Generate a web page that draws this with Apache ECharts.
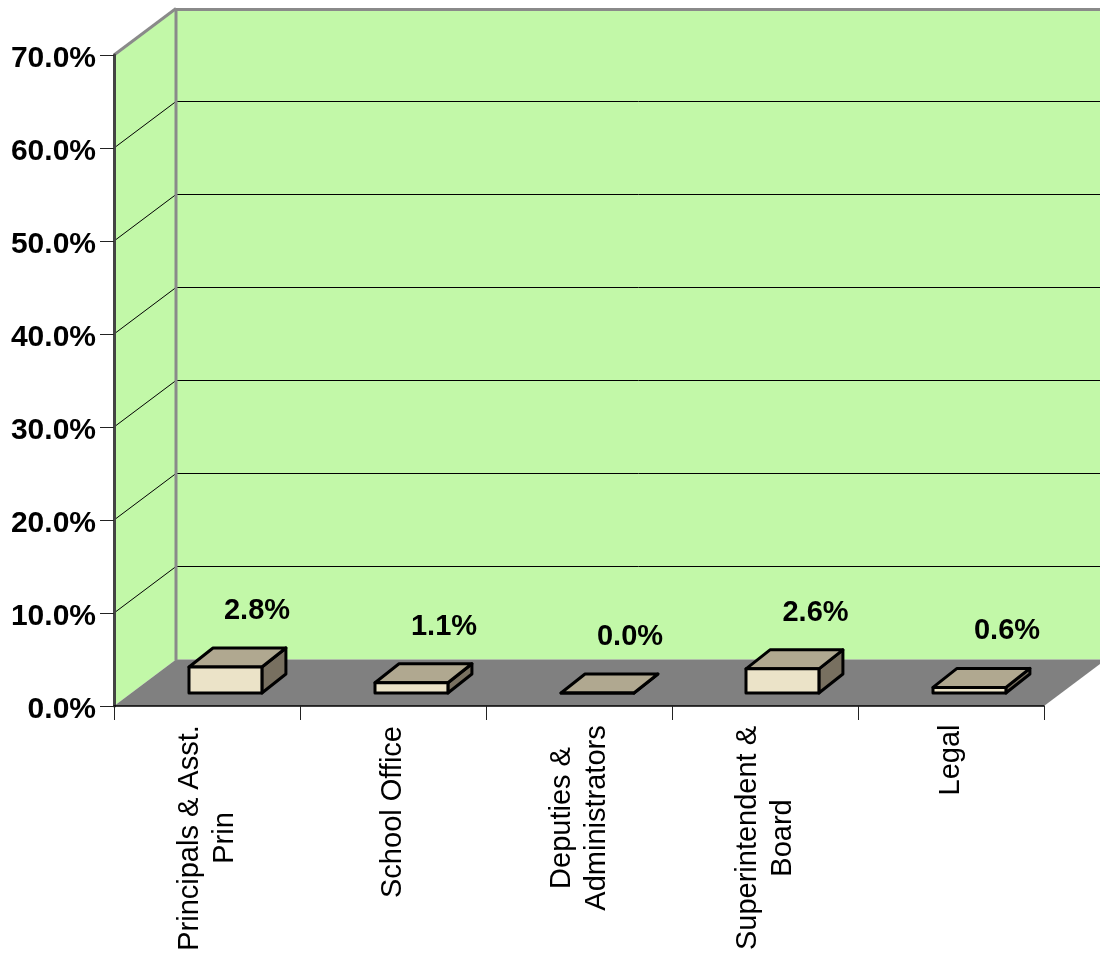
<!DOCTYPE html>
<html><head><meta charset="utf-8">
<style>html,body{margin:0;padding:0;background:#fff;overflow:hidden}#c{width:1100px;height:953px}</style>
<script src="https://cdn.jsdelivr.net/npm/echarts@6/dist/echarts.min.js"></script>
</head><body><div id="c"></div>
<script>
const categories = ['Principals & Asst.\nPrin', 'School Office', 'Deputies &\nAdministrators', 'Superintendent &\nBoard', 'Legal'];
const values = [2.8, 1.1, 0.0, 2.6, 0.6];
const yTicks = [0, 10, 20, 30, 40, 50, 60, 70];

const FONT = '"Liberation Sans", Arial, sans-serif';
const DX = 62, DY = -46.5;           // depth of the room
const labelCentres = [838, 812, 818, 838, 760];

const chart = echarts.init(document.getElementById('c'), null, {renderer: 'canvas'});

function poly(pts, fill, stroke, lw) {
  return {type: 'polygon', shape: {points: pts},
    style: {fill: fill, stroke: stroke || 'none', lineWidth: lw || 0, lineJoin: 'round'}};
}
function line(a, b, stroke, lw) {
  return {type: 'line', shape: {x1: a[0], y1: a[1], x2: b[0], y2: b[1]},
    style: {stroke: stroke, lineWidth: lw, fill: 'none'}};
}

function renderRoom(params, api) {
  const band = api.size([1, 0])[0];
  const x0 = api.coord([0, 0])[0] - band / 2;
  const x1 = api.coord([categories.length - 1, 0])[0] + band / 2;
  const yB = api.coord([0, 0])[1], yT = api.coord([0, 70])[1];
  const wall = '#c2f8a8', edge = '#8a8a8a';
  const ch = [
    poly([[x0, yT], [x0 + DX, yT + DY], [x0 + DX, yB + DY], [x0, yB]], wall),
    poly([[x0 + DX, yT + DY], [x1 + DX, yT + DY], [x1 + DX, yB + DY], [x0 + DX, yB + DY]], wall),
    poly([[x0, yB], [x0 + DX, yB + DY], [x1 + DX, yB + DY], [x1, yB]], '#808080')
  ];
  yTicks.forEach(function (t) {
    if (t === 0 || t === 70) return;
    const y = api.coord([0, t])[1];
    ch.push(line([x0, y], [x0 + DX, y + DY], '#000', 1));
    ch.push(line([x0 + DX, y + DY], [x1 + DX, y + DY], '#000', 1));
  });
  ch.push(line([x0 + DX, yB + DY + 1], [x0 + DX, yT + DY], edge, 3));
  ch.push(line([x0, yT], [x0 + DX, yT + DY], edge, 3));
  ch.push(line([x0 + DX, yT + DY + 1], [x1 + DX, yT + DY + 1], edge, 3));
  return {type: 'group', children: ch};
}

function renderBar(params, api) {
  const i = api.value(0), v = api.value(1);
  const band = api.size([1, 0])[0];
  const c = api.coord([i, 0]), t = api.coord([i, v]);
  const w = band * 0.392;
  const xl = c[0] - band / 2 + 75 - (i === 3 ? 1 : 0);
  const xr = xl + w;
  const yb = c[1] - 13, yt = t[1] - 13;
  const bx = 24, by = -19;
  const s = '#000', lw = 3;
  const labelDx = [50, 51, 51, 50.5, 56][i];
  return {type: 'group', children: [
    poly([[xr, yt], [xr + bx, yt + by], [xr + bx, yb + by], [xr, yb]], '#787060', s, lw),
    poly([[xl, yt], [xr, yt], [xr + bx, yt + by], [xl + bx, yt + by]], '#b0a890', s, lw),
    poly([[xl, yt], [xr, yt], [xr, yb], [xl, yb]], '#ebe3c8', s, lw),
    {type: 'text', style: {
      text: v.toFixed(1) + '%', x: c[0] + labelDx, y: yt + by - 37,
      align: 'center', verticalAlign: 'middle',
      font: 'bold 29px ' + FONT, fill: '#000'}}
  ]};
}

chart.setOption({
  animation: false,
  backgroundColor: '#fff',
  grid: {left: 114, top: 55, width: 930, height: 651, containLabel: false, outerBoundsMode: 'none'},
  xAxis: {
    type: 'category',
    z: 10,
    data: categories.map(function (name, i) {
      return {value: name, textStyle: {
        align: 'center', verticalAlign: 'middle',
        padding: [0, 2 * (labelCentres[i] - 760), 0, 0]}};
    }),
    axisLine: {show: true, lineStyle: {color: '#000', width: 1.5}},
    axisTick: {show: true, length: 14, lineStyle: {color: '#222', width: 1}},
    axisLabel: {
      interval: 0, rotate: 90, margin: 54,
      color: '#000', fontFamily: FONT, fontSize: 29, lineHeight: 35,
      hideOverlap: false
    }
  },
  yAxis: {
    type: 'value', min: 0, max: 70, interval: 10,
    z: 10,
    axisLine: {show: true, lineStyle: {color: '#444', width: 3}},
    axisTick: {show: true, length: 14, lineStyle: {color: '#222', width: 1}},
    splitLine: {show: false},
    axisLabel: {
      margin: 18, color: '#000',
      formatter: function (v) { return '{a|' + v.toFixed(1) + '%}'; },
      rich: {a: {fontFamily: FONT, fontWeight: 'bold', fontSize: 30, color: '#000', padding: [7, 0, 0, 0]}}
    }
  },
  series: [
    {type: 'custom', z: 1, clip: false, silent: true, data: [[0, 0]],
     encode: {x: 0, y: 1}, renderItem: renderRoom},
    {type: 'custom', z: 20, clip: false, silent: true,
     data: values.map(function (v, i) { return [i, v]; }),
     encode: {x: 0, y: 1}, renderItem: renderBar}
  ]
});
</script></body></html>
